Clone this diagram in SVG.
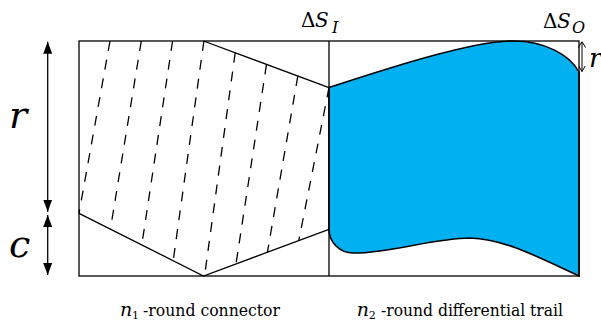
<svg xmlns="http://www.w3.org/2000/svg" width="601" height="322" viewBox="0 0 601 322">
<style>
.ln{fill:none;stroke:#000;stroke-width:1.3}
.hatch{fill:none;stroke:#000;stroke-width:1.3;stroke-dasharray:10 9}
.blue{fill:#00B0F0;stroke:#000;stroke-width:1.6}
.it{font-style:italic}
</style>
<defs>
<marker id="tri" viewBox="0 0 12 10" refX="12" refY="5" markerWidth="12" markerHeight="10" markerUnits="userSpaceOnUse" orient="auto-start-reverse">
<path d="M0,0.5 L12,5 L0,9.5 Z" fill="#000"/>
</marker>
<marker id="open" viewBox="0 0 6 8" refX="6" refY="4" markerWidth="6" markerHeight="8" markerUnits="userSpaceOnUse" orient="auto-start-reverse">
<path d="M0,0.5 L6,4 L0,7.5" fill="none" stroke="#000" stroke-width="1"/>
</marker>
</defs>
<rect width="601" height="322" fill="#fff"/>
<g id="trail">
<path class="blue" d="M329,87.6 C380,71 470,41 513,41 C545,41 570,55 579,72 L579,276 C540,258 505,239 470,238 C435,238 385,254 353,253 C339.8,253 329,242.2 329,229.3 Z"/>
</g>
<g id="frame">
<rect class="ln" x="79" y="41" width="500" height="235"/>
<line class="ln" x1="329" y1="41" x2="329" y2="276"/>
</g>
<g id="connector">
<polyline class="ln" points="203.5,41 329,87.6"/>
<polyline class="ln" points="79,213.3 203.5,276 329,229.3"/>
<g class="hatch">
<line x1="110" y1="41" x2="79" y2="213.3"/>
<line x1="141.3" y1="41" x2="110.4" y2="229.1"/>
<line x1="172.6" y1="41" x2="141.8" y2="244.9"/>
<line x1="203.9" y1="41" x2="173.2" y2="260.7"/>
<line x1="235.2" y1="52.7" x2="204.6" y2="275.6"/>
<line x1="266.5" y1="64.4" x2="236" y2="263.9"/>
<line x1="297.8" y1="76.1" x2="267.4" y2="252.3"/>
<line x1="329" y1="87.6" x2="298.8" y2="240.5"/>
</g>
</g>
<g id="connectors">
<line class="ln" x1="47.7" y1="41.7" x2="47.7" y2="211.7" marker-start="url(#tri)" marker-end="url(#tri)"/>
<line class="ln" x1="47.7" y1="215" x2="47.7" y2="275" marker-start="url(#tri)" marker-end="url(#tri)"/>
<line x1="582" y1="41.5" x2="582" y2="71.5" stroke="#000" stroke-width="1" marker-start="url(#open)" marker-end="url(#open)"/>
</g>
<g id="labels" font-family="DejaVu Serif, Liberation Serif, serif" fill="#000">
<text class="it" x="9" y="127.7" font-size="38">r</text>
<text class="it" x="9" y="256.7" font-size="38">c</text>
<text x="301" y="27" font-size="20">Δ<tspan class="it" x="315">S</tspan><tspan class="it" x="332" y="33" font-size="16">I</tspan></text>
<text x="543" y="28.3" font-size="20">Δ<tspan class="it" x="557">S</tspan><tspan class="it" x="572" y="33.3" font-size="16">O</tspan></text>
<text class="it" x="589" y="66.7" font-size="26">r</text>
<text x="120" y="316" font-size="17"><tspan class="it" font-size="19">n</tspan><tspan x="132" y="319" font-size="11">1</tspan></text>
<text x="143" y="316" font-size="16" textLength="137" lengthAdjust="spacingAndGlyphs">-round connector</text>
<text x="356.7" y="316" font-size="17"><tspan class="it" font-size="19">n</tspan><tspan x="368.7" y="319" font-size="11">2</tspan></text>
<text x="381" y="316" font-size="16" textLength="182" lengthAdjust="spacingAndGlyphs">-round differential trail</text>
</g>
</svg>
